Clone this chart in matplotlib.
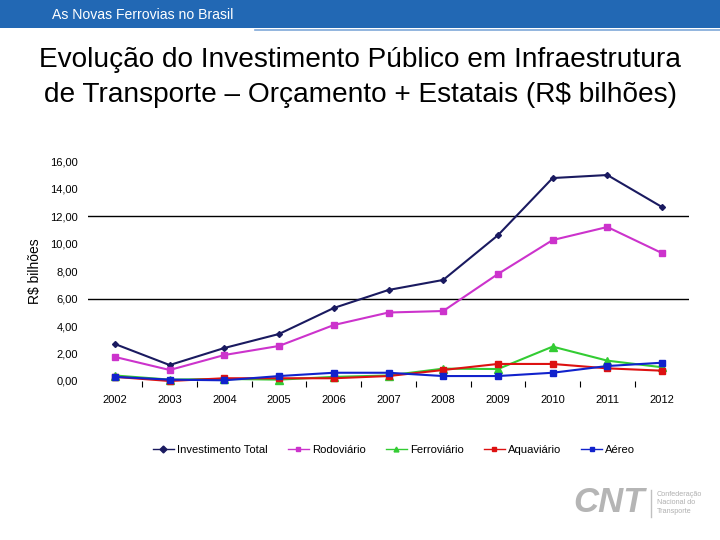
import matplotlib
matplotlib.use("Agg")
import matplotlib.pyplot as plt
from matplotlib.patches import Rectangle
from matplotlib.lines import Line2D
from matplotlib.ticker import FuncFormatter

plt.rcParams['font.family'] = ['Liberation Sans', 'DejaVu Sans']

years = [2002, 2003, 2004, 2005, 2006, 2007, 2008, 2009, 2010, 2011, 2012]
total = [2.69, 1.16, 2.40, 3.42, 5.31, 6.62, 7.35, 10.60, 14.76, 14.98, 12.65]
rodoviario = [1.75, 0.80, 1.89, 2.55, 4.07, 4.98, 5.09, 7.78, 10.25, 11.20, 9.30]
ferroviario = [0.40, 0.10, 0.15, 0.10, 0.30, 0.40, 0.90, 0.87, 2.50, 1.48, 1.00]
aquaviario = [0.30, 0.00, 0.20, 0.20, 0.20, 0.36, 0.80, 1.24, 1.24, 0.92, 0.75]
aereo = [0.30, 0.10, 0.05, 0.36, 0.60, 0.60, 0.36, 0.36, 0.60, 1.09, 1.33]
yticks = [0, 2, 4, 6, 8, 10, 12, 14, 16]

fig = plt.figure(figsize=(7.2, 5.4), dpi=100)

# Header bar
fig.patches.append(Rectangle((0, 1 - 28/540), 1, 28/540, transform=fig.transFigure,
                             facecolor='#2268B4', edgecolor='none', zorder=0))
fig.add_artist(Line2D([255/720, 1], [1 - 29.5/540, 1 - 29.5/540], color='#7FA8D8', lw=1.2))
fig.text(52/720, 1 - 15/540, "As Novas Ferrovias no Brasil", color='white', fontsize=10.1,
         va='center', ha='left')

# Title
fig.text(360/720, 1 - 60/540, "Evolução do Investimento Público em Infraestrutura",
         fontsize=20.2, ha='center', va='center')
fig.text(360/720, 1 - 95/540, "de Transporte \u2013 Orçamento + Estatais (R$ bilhões)",
         fontsize=20.2, ha='center', va='center')

ax = fig.add_axes([87.6/720, 1 - 381/540, 601.8/720, 220/540])
ax.set_xlim(2001.5, 2012.5)
ax.set_ylim(0, 16)
for s in ax.spines.values():
    s.set_visible(False)
ax.set_yticks(yticks)
ax.yaxis.set_major_formatter(FuncFormatter(lambda v, p: f"{v:.2f}".replace('.', ',')))
ax.tick_params(axis='y', length=0, labelsize=8, pad=7)
ax.set_xticks(years)
ax.set_xticklabels([str(y) for y in years])
ax.tick_params(axis='x', length=0, labelsize=8, pad=10)
ax.set_xticks([y + 0.5 for y in years[:-1]], minor=True)
ax.tick_params(axis='x', which='minor', length=4, direction='out', width=0.8, color='black')
for g in [6, 12]:
    ax.axhline(g, color='black', lw=1.0, zorder=1)

series = [
    (total, '#1A1A60', 'D', 3, "Investimento Total"),
    (rodoviario, '#CC33CC', 's', 4, "Rodoviário"),
    (ferroviario, '#33CC33', '^', 6, "Ferroviário"),
    (aquaviario, '#DD1111', 's', 5, "Aquaviário"),
    (aereo, '#1122CC', 's', 5, "Aéreo"),
]
handles = []
for vals, c, m, ms, lab in series:
    h, = ax.plot(years, vals, color=c, marker=m, markersize=ms, lw=1.5, label=lab,
                 clip_on=False, zorder=3)
    handles.append(h)

ax.set_ylabel("R$ bilhões", fontsize=10, labelpad=6)

leg = fig.legend(handles=handles, loc='center', bbox_to_anchor=(394/720, 1 - 450/540),
                 ncol=5, frameon=False, fontsize=8.1, handlelength=1.87, columnspacing=1.8,
                 handletextpad=0.27)
for h in leg.legend_handles:
    h.set_markersize(3.5)
    h.set_linewidth(1.0)

# CNT logo
fig.text(609/720, 1 - 503/540, "CNT", fontsize=25, fontweight='bold', style='italic',
         color='#B5B5B5', ha='center', va='center')
fig.add_artist(Line2D([651/720, 651/720], [1 - 490/540, 1 - 517/540], color='#C0C0C0', lw=1))
fig.text(657/720, 1 - 503/540, "Confederação\nNacional do\nTransporte", fontsize=5.2,
         color='#B0B0B0', ha='left', va='center', linespacing=1.3)

fig.savefig("out.png", dpi=100)
